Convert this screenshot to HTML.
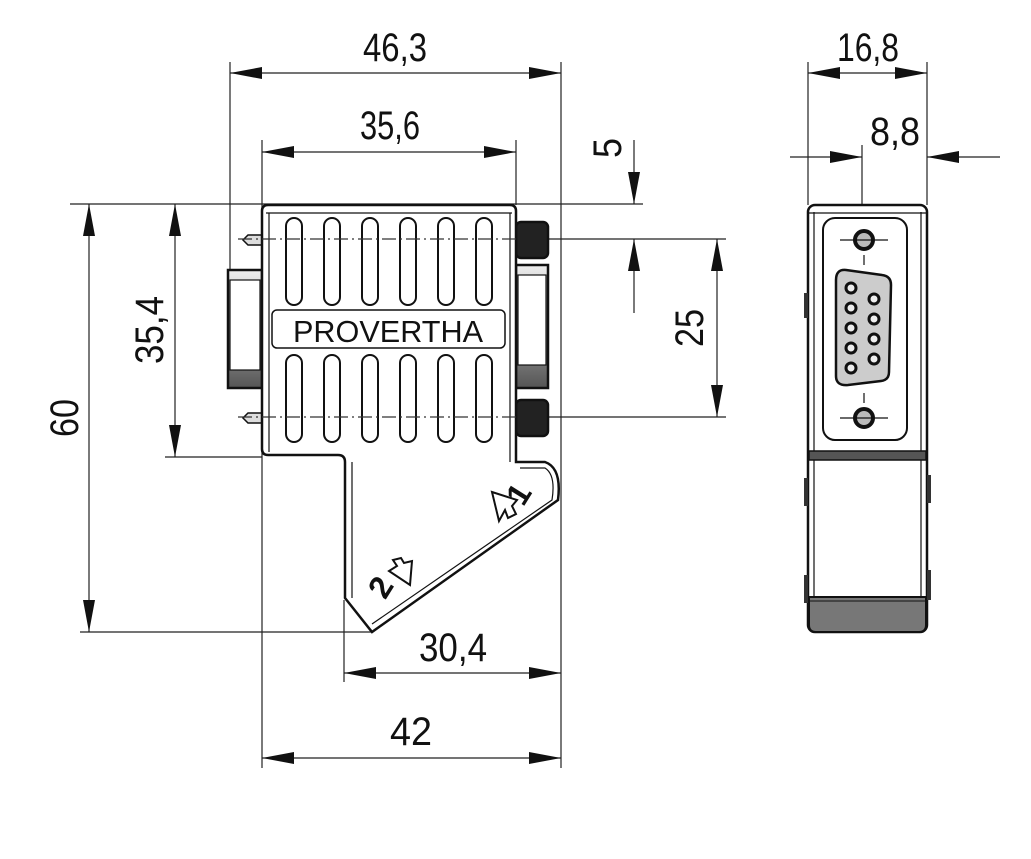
<!DOCTYPE html>
<html><head><style>
html,body{margin:0;padding:0;background:#fff;}
svg{display:block;}
text{font-family:"Liberation Sans Narrow","Liberation Sans",sans-serif;fill:#111;}
</style></head><body>
<svg width="1031" height="859" viewBox="0 0 1031 859" xmlns="http://www.w3.org/2000/svg">
<defs>
<marker id="a" viewBox="0 0 32 12" refX="32" refY="6" markerWidth="32" markerHeight="12" markerUnits="userSpaceOnUse" orient="auto-start-reverse">
<path d="M0,0 L32,6 L0,12 Z" fill="#111"/>
</marker>
<linearGradient id="g" x1="0" y1="0" x2="0" y2="1"><stop offset="0" stop-color="#eee"/><stop offset="1" stop-color="#555"/></linearGradient>
</defs>
<g stroke="#222" stroke-width="1.2" fill="none">
<line x1="230" y1="62" x2="230" y2="290"/>
<line x1="561" y1="62" x2="561" y2="768"/>
<line x1="262" y1="140" x2="262" y2="768"/>
<line x1="516" y1="140" x2="516" y2="205"/>
<line x1="70" y1="204" x2="643" y2="204"/>
<line x1="520" y1="239" x2="726" y2="239"/>
<line x1="520" y1="417" x2="726" y2="417"/>
<line x1="165" y1="457" x2="262" y2="457"/>
<line x1="80" y1="632" x2="372" y2="632"/>
<line x1="344" y1="600" x2="344" y2="682"/>
<line x1="808" y1="62" x2="808" y2="205"/>
<line x1="927" y1="62" x2="927" y2="205"/>
<line x1="862" y1="145" x2="862" y2="632"/>
<line x1="230" y1="73" x2="561" y2="73" marker-start="url(#a)" marker-end="url(#a)"/>
<line x1="262" y1="152" x2="516" y2="152" marker-start="url(#a)" marker-end="url(#a)"/>
<line x1="344" y1="673" x2="561" y2="673" marker-start="url(#a)" marker-end="url(#a)"/>
<line x1="262" y1="758" x2="561" y2="758" marker-start="url(#a)" marker-end="url(#a)"/>
<line x1="89" y1="204" x2="89" y2="632" marker-start="url(#a)" marker-end="url(#a)"/>
<line x1="175" y1="204" x2="175" y2="457" marker-start="url(#a)" marker-end="url(#a)"/>
<line x1="717" y1="239" x2="717" y2="417" marker-start="url(#a)" marker-end="url(#a)"/>
<line x1="634" y1="140" x2="634" y2="204" marker-end="url(#a)"/>
<line x1="634" y1="313" x2="634" y2="239" marker-end="url(#a)"/>
<line x1="808" y1="73" x2="927" y2="73" marker-start="url(#a)" marker-end="url(#a)"/>
<line x1="790" y1="157" x2="862" y2="157" marker-end="url(#a)"/>
<line x1="1000" y1="157" x2="927" y2="157" marker-end="url(#a)"/>
</g>
<g font-size="40">
<text x="395" y="61" text-anchor="middle" textLength="64" lengthAdjust="spacingAndGlyphs">46,3</text>
<text x="390" y="139" text-anchor="middle" textLength="60" lengthAdjust="spacingAndGlyphs">35,6</text>
<text x="453" y="661" text-anchor="middle" textLength="68" lengthAdjust="spacingAndGlyphs">30,4</text>
<text x="411" y="745" text-anchor="middle" textLength="42" lengthAdjust="spacingAndGlyphs">42</text>
<text x="868" y="61" text-anchor="middle" textLength="62" lengthAdjust="spacingAndGlyphs">16,8</text>
<text x="895" y="145" text-anchor="middle" textLength="50" lengthAdjust="spacingAndGlyphs">8,8</text>
<text transform="translate(163,330) rotate(-90)" text-anchor="middle" textLength="68" lengthAdjust="spacingAndGlyphs">35,4</text>
<text transform="translate(78,418) rotate(-90)" text-anchor="middle" textLength="38" lengthAdjust="spacingAndGlyphs">60</text>
<text transform="translate(703,328) rotate(-90)" text-anchor="middle" textLength="38" lengthAdjust="spacingAndGlyphs">25</text>
<text transform="translate(621,148) rotate(-90)" text-anchor="middle" textLength="20" lengthAdjust="spacingAndGlyphs">5</text>
</g>
<g stroke="#111" stroke-width="2.5" fill="#fff">
<rect x="228" y="270" width="34" height="118" fill="url(#g)"/>
<rect x="230" y="280" width="30" height="90" fill="#fff" stroke-width="1.2"/>
<rect x="516" y="265" width="32" height="123" fill="url(#g)"/>
<rect x="518" y="275" width="28" height="90" fill="#fff" stroke-width="1.2"/>
<rect x="516" y="222" width="32" height="36" rx="5" fill="#222"/>
<rect x="516" y="400" width="32" height="36" rx="5" fill="#222"/>
<path d="M248,235 L262,235 L262,245 L248,245 L243,240 Z" fill="#ddd" stroke-width="1.5"/>
<path d="M248,413 L262,413 L262,423 L248,423 L243,418 Z" fill="#ddd" stroke-width="1.5"/>
<path d="M268,205 L510,205 Q516,205 516,211 L516,462 L545,462 Q562,468 558,500 L372,632 L345,598 L345,462 Q345,455 338,455 L268,455 Q262,455 262,449 L262,211 Q262,205 268,205 Z"/>
<path d="M266,213 L512,213 M269,213 L269,452 M510,213 L510,462 M352,462 L352,598 M520,468 L545,468 Q556,475 552,500 L372,624" fill="none" stroke-width="1.2"/>
</g>
<g stroke="#111" stroke-width="2" fill="#fff">
<rect x="286" y="218" width="16" height="87" rx="8"/><rect x="324" y="218" width="16" height="87" rx="8"/><rect x="362" y="218" width="16" height="87" rx="8"/><rect x="400" y="218" width="16" height="87" rx="8"/><rect x="438" y="218" width="16" height="87" rx="8"/><rect x="476" y="218" width="16" height="87" rx="8"/>
<rect x="286" y="355" width="16" height="87" rx="8"/><rect x="324" y="355" width="16" height="87" rx="8"/><rect x="362" y="355" width="16" height="87" rx="8"/><rect x="400" y="355" width="16" height="87" rx="8"/><rect x="438" y="355" width="16" height="87" rx="8"/><rect x="476" y="355" width="16" height="87" rx="8"/>
<rect x="272" y="310" width="233" height="38" rx="5" stroke-width="1.5"/>
</g>
<g stroke="#333" stroke-width="1.2" stroke-dasharray="14,4,2,4">
<line x1="238" y1="239" x2="520" y2="239"/>
<line x1="238" y1="417" x2="520" y2="417"/>
</g>
<text x="388" y="342" text-anchor="middle" font-size="31" textLength="190" lengthAdjust="spacingAndGlyphs">PROVERTHA</text>
<text transform="translate(528,500) rotate(-58)" font-size="32" font-weight="bold" text-anchor="middle">1</text>
<text transform="translate(390,593) rotate(-58)" font-size="32" font-weight="bold" text-anchor="middle">2</text>
<path d="M492,492 L517,500 L512,506 L516,514 L508,518 L505,510 L499,521 Z" fill="#fff" stroke="#111" stroke-width="2"/>
<path d="M412,561 L410,585 L389,571 L397,566 L393,560 L401,558 L404,563 Z" fill="#fff" stroke="#111" stroke-width="2"/>
<g stroke="#111" fill="none">
<rect x="808" y="205" width="119" height="427" rx="7" stroke-width="2.5" fill="#fff"/>
<line x1="814" y1="212" x2="814" y2="625" stroke-width="1.2"/>
<line x1="921" y1="212" x2="921" y2="625" stroke-width="1.2"/>
<line x1="808" y1="213" x2="927" y2="213" stroke-width="1.2"/>
<rect x="823" y="218" width="84" height="222" rx="12" stroke-width="2"/>
<rect x="809" y="451" width="117" height="9" fill="#555" stroke-width="1.5"/>
<path d="M809,597 L926,597 L926,625 Q926,632 919,632 L816,632 Q809,632 809,625 Z" fill="#777" stroke-width="2"/>
<line x1="809" y1="601" x2="926" y2="601" stroke-width="1"/>
<path d="M846,270 L882,275 Q891,276 891,285 L889,372 Q889,380 881,381 L848,385 Q836,386 836,376 L836,280 Q836,269 846,270 Z" fill="#ccc" stroke-width="2.5"/>
<g fill="#eee" stroke-width="3">
<circle cx="851" cy="288" r="5"/><circle cx="851" cy="308" r="5"/><circle cx="851" cy="328" r="5"/><circle cx="851" cy="348" r="5"/><circle cx="851" cy="368" r="5"/>
<circle cx="874" cy="299" r="5"/><circle cx="874" cy="319" r="5"/><circle cx="874" cy="339" r="5"/><circle cx="874" cy="359" r="5"/>
</g>
<circle cx="864" cy="240" r="9" fill="#bbb" stroke-width="4"/>
<circle cx="864" cy="418" r="9" fill="#bbb" stroke-width="4"/>
<line x1="840" y1="240" x2="888" y2="240" stroke-width="1.2"/>
<line x1="840" y1="418" x2="888" y2="418" stroke-width="1.2"/>
<line x1="864" y1="255" x2="864" y2="265" stroke-width="1.2"/>
<line x1="864" y1="393" x2="864" y2="403" stroke-width="1.2"/>
<rect x="804" y="293" width="4" height="25" fill="#333" stroke="none"/>
<rect x="804" y="478" width="4" height="28" fill="#333" stroke="none"/>
<rect x="804" y="575" width="4" height="28" fill="#333" stroke="none"/>
<rect x="927" y="475" width="4" height="28" fill="#333" stroke="none"/>
<rect x="927" y="570" width="4" height="30" fill="#333" stroke="none"/>
</g>
</svg>
</body></html>
